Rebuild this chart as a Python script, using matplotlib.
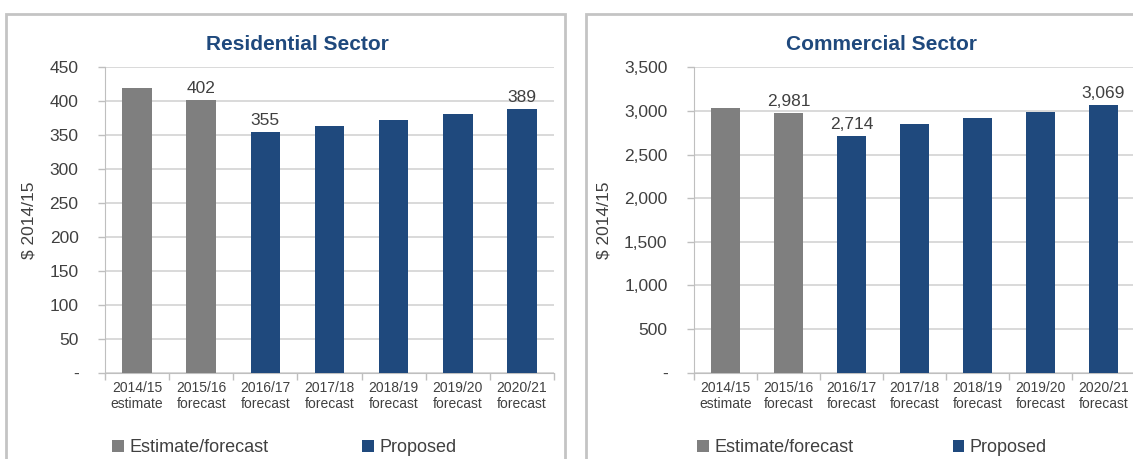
import matplotlib.pyplot as plt
from matplotlib.patches import Rectangle
from matplotlib.ticker import FuncFormatter

plt.rcParams['font.family'] = ['Liberation Sans', 'DejaVu Sans']

# Cost per customer by year
years = ["2014/15\nestimate", "2015/16\nforecast", "2016/17\nforecast", "2017/18\nforecast",
         "2018/19\nforecast", "2019/20\nforecast", "2020/21\nforecast"]
residential = [420, 402, 355, 364, 372, 381, 389]
commercial = [3030, 2981, 2714, 2848, 2922, 2993, 3069]
# first two bars are estimate/forecast, the rest proposed
is_proposed = [False, False, True, True, True, True, True]
labelled = [1, 2, 6]

GREY = "#7F7F7F"
BLUE = "#1F497D"
TEXT = "#404040"
GRID = "#D9D9D9"

fig = plt.figure(figsize=(11.33, 4.59), dpi=100)

# chart frames
fig.patches.append(Rectangle((6 / 1133, -0.05), (565 - 6) / 1133, 1.05 - 14 / 459,
                             transform=fig.transFigure, fill=False, edgecolor="#C4C4C4", lw=2))
fig.patches.append(Rectangle((586 / 1133, -0.05), 0.6, 1.05 - 14 / 459,
                             transform=fig.transFigure, fill=False, edgecolor="#C4C4C4", lw=2))


def draw_panel(rect, values, ymax, step, title, title_x, fmt, legend_x, col_space):
    ax = fig.add_axes(rect)
    colors = [BLUE if p else GREY for p in is_proposed]
    x = range(len(values))
    bars = ax.bar(x, values, width=0.46, color=colors, zorder=3)
    for i in labelled:
        ax.annotate(fmt(values[i]), (i, values[i]), xytext=(0, 3), textcoords="offset points",
                    ha="center", va="bottom", fontsize=12.5, color=TEXT)

    ax.set_xlim(-0.5, len(values) - 0.5)
    ax.set_ylim(0, ymax)
    ax.set_yticks(range(0, ymax + 1, step))
    ax.yaxis.set_major_formatter(FuncFormatter(lambda v, p: "-" if v == 0 else fmt(v)))
    ax.tick_params(axis="y", labelsize=12.5, colors=TEXT, length=5, width=1, color="#BFBFBF", pad=14)
    ax.set_xticks([i + 0.5 for i in range(-1, len(values))], minor=False)
    ax.set_xticklabels([])
    ax.set_xticks(list(x), minor=True)
    ax.set_xticklabels(years, minor=True, fontsize=10, color=TEXT, linespacing=1.15)
    ax.tick_params(axis="x", which="major", length=5, color="#BFBFBF", width=1)
    ax.tick_params(axis="x", which="minor", length=0, pad=6)
    ax.grid(axis="y", color=GRID, lw=1.4, zorder=0)
    for s in ["top", "right"]:
        ax.spines[s].set_visible(False)
    ax.spines["left"].set_color("#BFBFBF")
    ax.spines["bottom"].set_color("#BFBFBF")
    ax.set_ylabel("$ 2014/15", fontsize=12.5, color=TEXT, labelpad=9)

    fig.text(title_x, 1 - 44 / 459, title, ha="center", va="center", fontsize=15,
             fontweight="bold", color=BLUE)

    handles = [bars[0], bars[2]]
    fig.legend(handles, ["Estimate/forecast", "Proposed"], loc="center left",
               bbox_to_anchor=(legend_x, 1 - 448 / 459), ncol=2, frameon=False,
               fontsize=13, handlelength=0.65, handleheight=0.65, handletextpad=0.3,
               columnspacing=col_space, borderaxespad=0, borderpad=0, labelcolor=TEXT)
    return ax


draw_panel([105 / 1133, 0.188, (554 - 105) / 1133, 0.665], residential, 450, 50,
           "Residential Sector", 297 / 1133, lambda v: f"{v:,.0f}", 112 / 1133, 5.2)
draw_panel([694 / 1133, 0.188, (1135 - 694) / 1133, 0.665], commercial, 3500, 500,
           "Commercial Sector", 882 / 1133, lambda v: f"{v:,.0f}", 697 / 1133, 5.5)

fig.savefig("out.png", dpi=100)
